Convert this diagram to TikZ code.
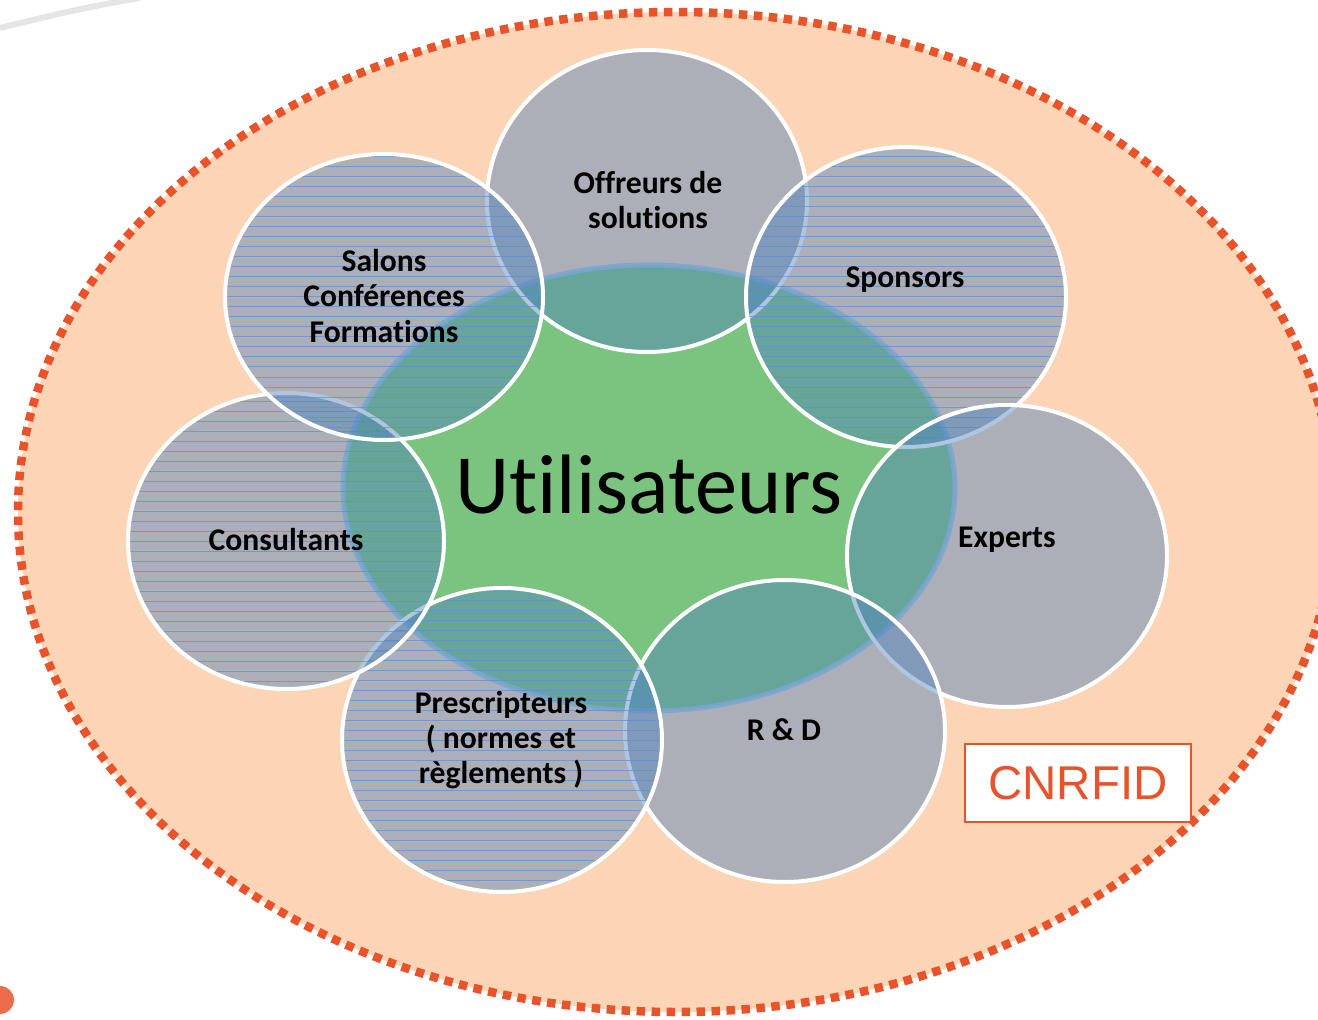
\documentclass[tikz,border=0pt]{standalone}
\usepackage{fontspec}
\setmainfont{Carlito}[Ligatures=CommonOff]
\newfontfamily\arialfont{Liberation Sans}
\definecolor{peach}{HTML}{FBD5B5}
\definecolor{dotred}{HTML}{E9532B}
\definecolor{usergreen}{HTML}{7BC47F}
\definecolor{ringblue}{HTML}{9DC3E6}
\definecolor{discblue}{HTML}{4F81BD}
\definecolor{hatchblue}{HTML}{5B8FD6}
\tikzset{
  discfill/.style={fill=discblue, fill opacity=0.45},
  discrim/.style={draw=white, line width=0.08cm},
  lbl/.style={font=\fontsize{18}{20}\selectfont\bfseries, align=center},
}
\newcommand{\hatch}[4]{%
  \begin{scope}[shift={(#1,#2)}]
    \clip (0,0) ellipse [x radius=#3, y radius=#4];
    \foreach \hy in {-160,-150,...,160}
      \draw[hatchblue, line width=0.02cm, opacity=0.7] (-170,\hy) -- (170,\hy);
  \end{scope}}
\begin{document}
\begin{tikzpicture}[x=0.02cm, y=-0.02cm]
  \useasboundingbox (0,0) rectangle (1318,1020);
  \clip (0,0) rectangle (1318,1020);
  % slide leftovers
  \draw[black!10, line width=0.12cm] (0,28) .. controls (40,18) and (90,6) .. (140,-2);
  \fill[dotred!85] (0,1000) circle (14);
  % CNRFID field
  \fill[peach] (676,512) ellipse [x radius=658, y radius=500];
  \draw[dotred, line width=0.17cm, dash pattern=on 0.17cm off 0.13cm]
    (676,512) ellipse [x radius=658, y radius=500];
  % users
  \fill[usergreen] (649,488) ellipse [x radius=306, y radius=223];
  \draw[ringblue, line width=0.1cm, opacity=0.8] (649,488) ellipse [x radius=306, y radius=223];
  % Offreurs de solutions
  \fill[discfill] (647,201) ellipse [x radius=160, y radius=151];
  \draw[discrim]  (647,201) ellipse [x radius=160, y radius=151];
  % Sponsors
  \fill[discfill] (906,297) ellipse [x radius=160, y radius=150];
  \hatch{906}{297}{160}{150}
  \draw[discrim]  (906,297) ellipse [x radius=160, y radius=150];
  % Experts
  \fill[discfill] (1007,556) ellipse [x radius=160, y radius=151];
  \draw[discrim]  (1007,556) ellipse [x radius=160, y radius=151];
  % R & D
  \fill[discfill] (785,731) ellipse [x radius=160, y radius=151];
  \draw[discrim]  (785,731) ellipse [x radius=160, y radius=151];
  % Prescripteurs
  \fill[discfill] (502,740) ellipse [x radius=160, y radius=152];
  \hatch{502}{740}{160}{152}
  \draw[discrim]  (502,740) ellipse [x radius=160, y radius=152];
  % Consultants
  \fill[discfill] (286,541) ellipse [x radius=158, y radius=148];
  \hatch{286}{541}{158}{148}
  \draw[discrim]  (286,541) ellipse [x radius=158, y radius=148];
  % Salons
  \fill[discfill] (384,297) ellipse [x radius=159, y radius=143];
  \hatch{384}{297}{159}{143}
  \draw[discrim]  (384,297) ellipse [x radius=159, y radius=143];
  % labels
  \node (users) at (649,485) {\fontsize{48}{50}\selectfont Utilisateurs};
  \node[lbl] (offer)   at (648,200) {Offreurs de\\solutions};
  \node[lbl] (salons)  at (384,296) {Salons\\Conférences\\Formations};
  \node[lbl] (sponsor) at (905,280) {Sponsors};
  \node[lbl] (consult) at (286,540) {Consultants};
  \node[lbl] (expert)  at (1007,540) {Experts};
  \node[lbl] (prescr)  at (501,740) {Prescripteurs\\( normes et\\règlements )};
  \node[lbl] (rnd)     at (784,730) {R \& D};
  \node[draw=dotred, line width=0.04cm, fill=white, text=dotred, inner sep=0,
        minimum width=4.54cm, minimum height=1.58cm,
        font=\arialfont\fontsize{27}{30}\selectfont] (cnrfid) at (1078,783) {CNRFID};
\end{tikzpicture}
\end{document}
